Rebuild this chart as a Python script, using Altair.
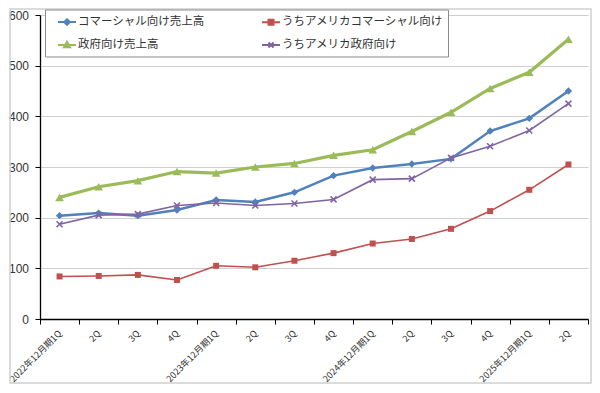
import altair as alt
import pandas as pd

# ---- data ----
quarters = ["2022年12月期1Q", "2Q", "3Q", "4Q",
            "2023年12月期1Q", "2Q", "3Q", "4Q",
            "2024年12月期1Q", "2Q", "3Q", "4Q",
            "2025年12月期1Q", "2Q"]
series_names = ["コマーシャル向け売上高", "うちアメリカコマーシャル向け",
                "政府向け売上高", "うちアメリカ政府向け"]
commercial = [204, 209, 204, 215, 235, 231, 250, 283, 298, 306, 316, 371, 396, 450]
us_commercial = [84, 85, 87, 77, 105, 102, 115, 130, 149, 158, 178, 213, 255, 305]
government = [240, 261, 273, 291, 288, 300, 307, 323, 334, 370, 408, 455, 487, 552]
us_government = [187, 205, 207, 224, 229, 224, 228, 236, 275, 277, 318, 341, 372, 425]
y_ticks = [0, 100, 200, 300, 400, 500, 600]

# ---- styles ----
colors = ["#4F81BD", "#C0504D", "#9BBB59", "#8064A2"]
line_widths = [2.5, 1.6, 3.2, 1.6]
marker_shapes = ["diamond", "square", "triangle-up", "M-1,-1L1,1M-1,1L1,-1"]
marker_filled = [True, True, True, False]
marker_sizes = [55, 36, 75, 36]
# legend symbols: a short line with the marker in its middle
legend_paths = [
    "M0.07,0L2.64,0M1.36,-0.4L1.76,0L1.36,0.4L0.96,0Z",
    "M0.07,0L2.64,0M1.0,-0.36L1.72,-0.36L1.72,0.36L1.0,0.36Z",
    "M0.07,0L2.64,0M1.36,-0.45L1.8,0.33L0.92,0.33Z",
    "M0.07,0L2.64,0M1.0,-0.36L1.72,0.36M1.0,0.36L1.72,-0.36",
]
JP = "Noto Sans CJK JP"

rows = []
for name, vals in zip(series_names, [commercial, us_commercial, government, us_government]):
    for i, v in enumerate(vals):
        rows.append({"idx": i, "series": name, "value": v})
df = pd.DataFrame(rows)

label_expr = "[" + ",".join("'" + q + "'" for q in quarters) + "][datum.value]"

x_enc = alt.X(
    "idx:O",
    scale=alt.Scale(type="band", paddingInner=0, paddingOuter=0),
    axis=alt.Axis(
        title=None, labelExpr=label_expr, labelAngle=-45, labelAlign="right",
        labelBaseline="middle", tickBand="extent", tickSize=5, tickColor="#000000",
        domainColor="#000000", domainWidth=1.3, grid=False, labelFont=JP,
        labelFontSize=9, labelColor="#333333", labelPadding=7.5, labelOverlap=False,
        labelLimit=0,
    ),
)
y_enc = alt.Y(
    "value:Q",
    scale=alt.Scale(domain=[0, 600], nice=False),
    axis=alt.Axis(
        title=None, values=y_ticks, grid=True, gridColor="#cfcfcf", gridWidth=1,
        domainColor="#000000", domainWidth=1.3, tickColor="#000000", tickSize=5,
        labelFont="Liberation Sans", labelFontSize=12, labelColor="#333333",
        labelPadding=6.5,
    ),
)

layers = []
for i, name in enumerate(series_names):
    sub = alt.Chart(df).transform_filter(alt.datum.series == name)
    layers.append(sub.mark_line(color=colors[i], strokeWidth=line_widths[i]).encode(x=x_enc, y=y_enc))
    layers.append(
        sub.mark_point(
            shape=marker_shapes[i], filled=marker_filled[i], size=marker_sizes[i],
            color=colors[i], opacity=1, strokeWidth=1.6,
        ).encode(x=x_enc, y=y_enc)
    )

legend = alt.Legend(
    title=None, orient="none", legendX=5, legendY=-5.5, columns=2,
    direction="horizontal",
    symbolSize=196, symbolStrokeWidth=2, symbolOpacity=1,
    labelFont=JP, labelFontSize=11.5, labelColor="#333333", labelOffset=12.5,
    labelLimit=0, columnPadding=49, rowPadding=8, padding=4.5,
    strokeColor="#8c8c8c", fillColor="#ffffff",
)
legend_layer = alt.Chart(df).mark_point(filled=True, opacity=0).encode(
    x=x_enc, y=y_enc,
    fill=alt.Fill("series:N", scale=alt.Scale(domain=series_names, range=colors), legend=legend),
    stroke=alt.Stroke("series:N", scale=alt.Scale(domain=series_names, range=colors), legend=legend),
    shape=alt.Shape("series:N", scale=alt.Scale(domain=series_names, range=legend_paths), legend=legend),
)

frame = alt.Chart(pd.DataFrame({"a": [0]})).mark_rect(
    fill=None, stroke="#d0d0d0", strokeWidth=1.5
).encode(x=alt.value(-30), x2=alt.value(551), y=alt.value(-6), y2=alt.value(368))

chart = alt.layer(frame, *layers, legend_layer).properties(
    width=548, height=304,
    autosize=alt.AutoSizeParams(type="none"),
    padding={"left": 32, "top": 7, "right": 4, "bottom": 66},
).configure_view(stroke=None)

chart.save("out.html", embed_options={"renderer": "svg", "actions": False})
